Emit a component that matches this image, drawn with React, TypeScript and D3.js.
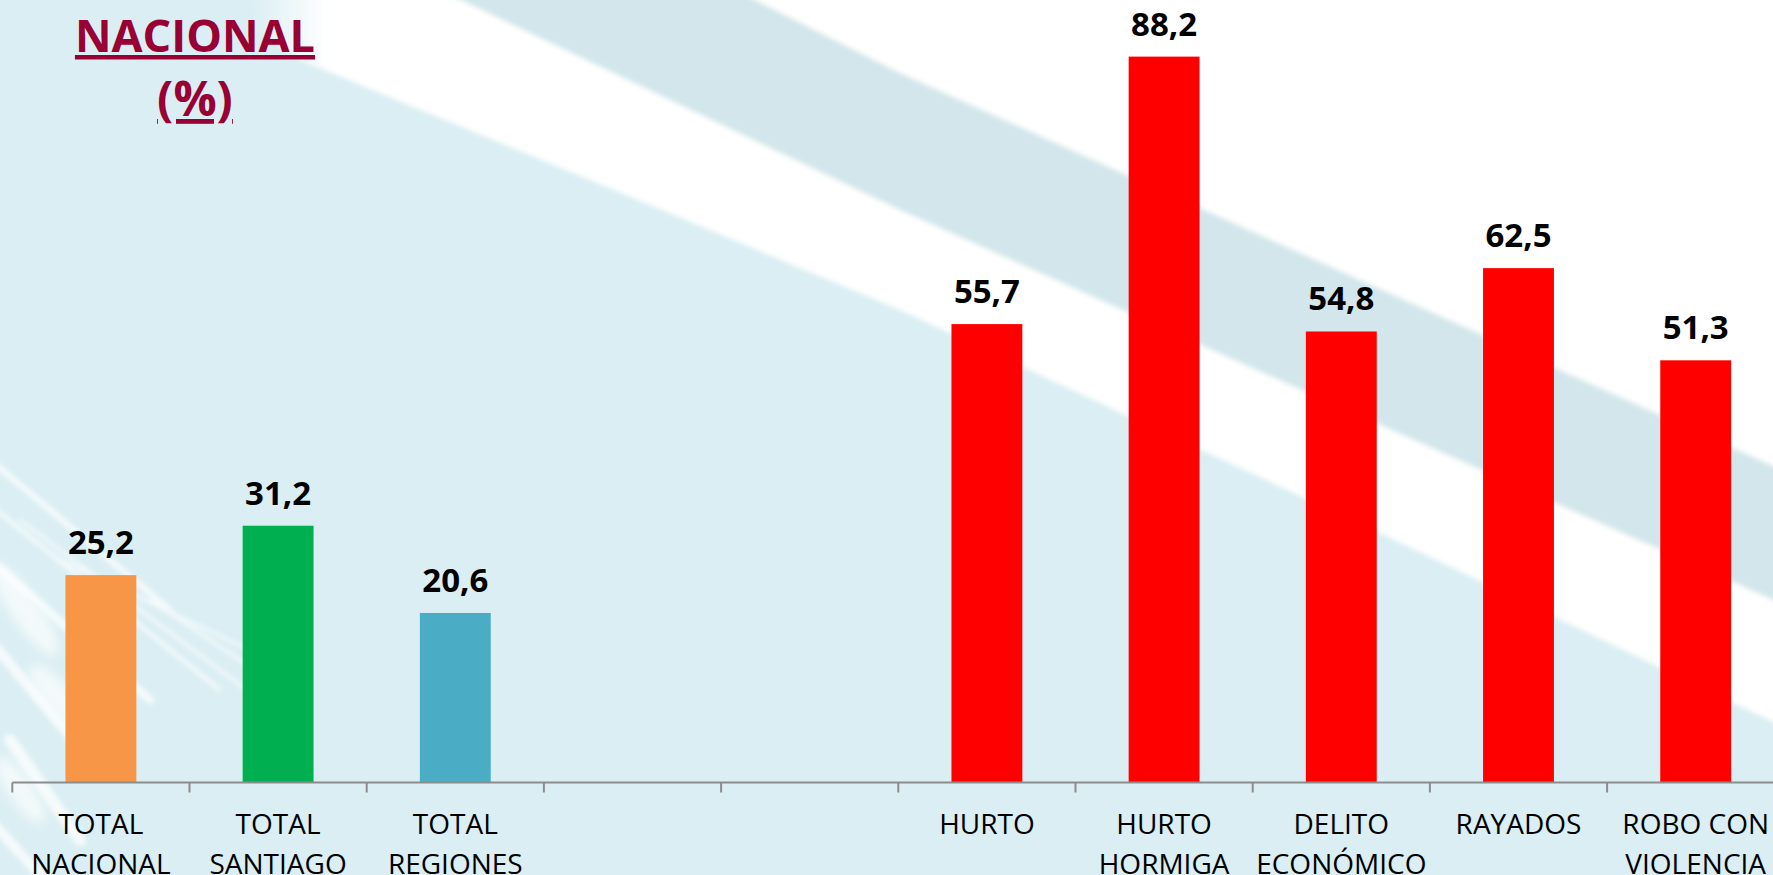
import React from "react";
import * as d3 from "d3";

const W = 1773;
const H = 875;

const categories = ["TOTAL NACIONAL", "TOTAL SANTIAGO", "TOTAL REGIONES", "", "", "HURTO", "HURTO HORMIGA", "DELITO ECONÓMICO", "RAYADOS", "ROBO CON VIOLENCIA"];
const labelLines = [["TOTAL", "NACIONAL"], ["TOTAL", "SANTIAGO"], ["TOTAL", "REGIONES"], [], [], ["HURTO"], ["HURTO", "HORMIGA"], ["DELITO", "ECONÓMICO"], ["RAYADOS"], ["ROBO CON", "VIOLENCIA"]];
const values: (number | null)[] = [25.2, 31.2, 20.6, null, null, 55.7, 88.2, 54.8, 62.5, 51.3];
const barColors = ["#F79646", "#00B050", "#4BACC6", "none", "none", "#FF0000", "#FF0000", "#FF0000", "#FF0000", "#FF0000"];
const titleLines = ["NACIONAL", "(%)"];

const FONT = "'Open Sans', 'Noto Sans', sans-serif";

export default function App() {
  const keys = categories.map((_, i) => String(i));
  const x = d3.scaleBand<string>().domain(keys).range([12.3, 12.3 + 177.2 * keys.length]).paddingInner(0.6).paddingOuter(0.3);
  const y = d3.scaleLinear().domain([0, 100]).range([782.5, -40.5]);
  const step = x.step();
  const x0 = 12.3;
  const fmt = (v: number) => d3.format(".1f")(v).replace(".", ",");
  const ticks = d3.range(keys.length + 1).map((i) => x0 + i * step);

  const poly = (pts: number[][]) => pts.map((p) => p.join(",")).join(" ");

  // decorative background edges
  const whiteLowerPts = [[1800, 735], [1380, 533], [900, 310], [650, 205], [300, 60], [255, 30], [250, -10]];
  const grayUpPts = [[735, -10], [900, 73], [1800, 478]];
  const grayLowPts = [[1800, 612], [1250, 367], [900, 210], [440, -10]];

  return (
    <svg width={W} height={H} style={{ position: "absolute", left: 0, top: 0, display: "block" }} xmlns="http://www.w3.org/2000/svg">
      <defs>
        <filter id="blur6" x="-20%" y="-20%" width="140%" height="140%">
          <feGaussianBlur stdDeviation="6" />
        </filter>
        <filter id="blur2" x="-20%" y="-20%" width="140%" height="140%">
          <feGaussianBlur stdDeviation="2.5" />
        </filter>
        <linearGradient id="whiteFade" x1="0" x2="1" y1="0" y2="0">
          <stop offset="0" stopColor="#fff" stopOpacity="0" />
          <stop offset="0.05" stopColor="#fff" stopOpacity="1" />
          <stop offset="1" stopColor="#fff" stopOpacity="1" />
        </linearGradient>
      </defs>
      {/* background */}
      <rect x={0} y={0} width={W} height={H} fill="#DAEEF3" />
      <g filter="url(#blur2)">
        <polygon points={poly([[W + 30, -10], ...whiteLowerPts])} fill="url(#whiteFade)" />
        <polygon points={poly([...grayUpPts, ...grayLowPts])} fill="#D2E6EB" />
      </g>
      {/* wisps bottom-left */}
      <g filter="url(#blur2)" stroke="#fff" strokeLinecap="round" fill="none" opacity={0.75}>
        <line x1={-10} y1={460} x2={170} y2={610} strokeWidth={6} />
        <line x1={-10} y1={505} x2={220} y2={690} strokeWidth={4} />
        <line x1={20} y1={520} x2={260} y2={700} strokeWidth={3} />
        <line x1={-10} y1={560} x2={150} y2={700} strokeWidth={8} />
        <line x1={60} y1={560} x2={250} y2={650} strokeWidth={3} />
        <line x1={-10} y1={640} x2={90} y2={760} strokeWidth={10} />
        <line x1={10} y1={740} x2={80} y2={840} strokeWidth={12} />
        <line x1={-10} y1={820} x2={40} y2={875} strokeWidth={10} />
        <line x1={150} y1={600} x2={300} y2={700} strokeWidth={3} />
      </g>
      <g filter="url(#blur6)" fill="#fff" opacity={0.7}>
        <ellipse cx={25} cy={610} rx={55} ry={14} transform="rotate(55 25 610)" />
        <ellipse cx={60} cy={700} rx={45} ry={14} transform="rotate(50 60 700)" />
        <ellipse cx={20} cy={790} rx={40} ry={12} transform="rotate(55 20 790)" />
      </g>

      {/* title */}
      <g fontFamily={FONT} fontWeight={700} fill="#990033" textAnchor="middle">
        {titleLines.map((t, i) => (
          <text key={t} x={195} y={i === 0 ? 52 : 116} fontSize={i === 0 ? 45 : 48} style={{ textDecoration: "underline", textDecorationThickness: "3px" } as any}>
            {t}
          </text>
        ))}
      </g>

      {/* bars */}
      {values.map((v, i) =>
        v == null ? null : (
          <rect key={"b" + i} x={x(keys[i])} y={y(v)} width={x.bandwidth()} height={y(0) - y(v)} fill={barColors[i]} />
        )
      )}
      {/* value labels */}
      <g fontFamily={FONT} fontWeight={700} fontSize={33} fill="#000" textAnchor="middle">
        {values.map((v, i) =>
          v == null ? null : (
            <text key={"v" + i} x={(x(keys[i]) as number) + x.bandwidth() / 2} y={y(v) - 21}>
              {fmt(v)}
            </text>
          )
        )}
      </g>
      {/* axis */}
      <g stroke="#8C8C8C" strokeWidth={2}>
        <line x1={x0} x2={W + 20} y1={y(0)} y2={y(0)} />
        {ticks.map((t, i) => (
          <line key={"t" + i} x1={t} x2={t} y1={y(0)} y2={y(0) + 10} />
        ))}
      </g>
      <g fontFamily={FONT} fontSize={28} fill="#000" textAnchor="middle">
        {labelLines.map((ls, i) =>
          ls.map((l, j) => (
            <text key={"l" + i + "-" + j} x={(x(keys[i]) as number) + x.bandwidth() / 2} y={834 + j * 40}>
              {l}
            </text>
          ))
        )}
      </g>
    </svg>
  );
}
